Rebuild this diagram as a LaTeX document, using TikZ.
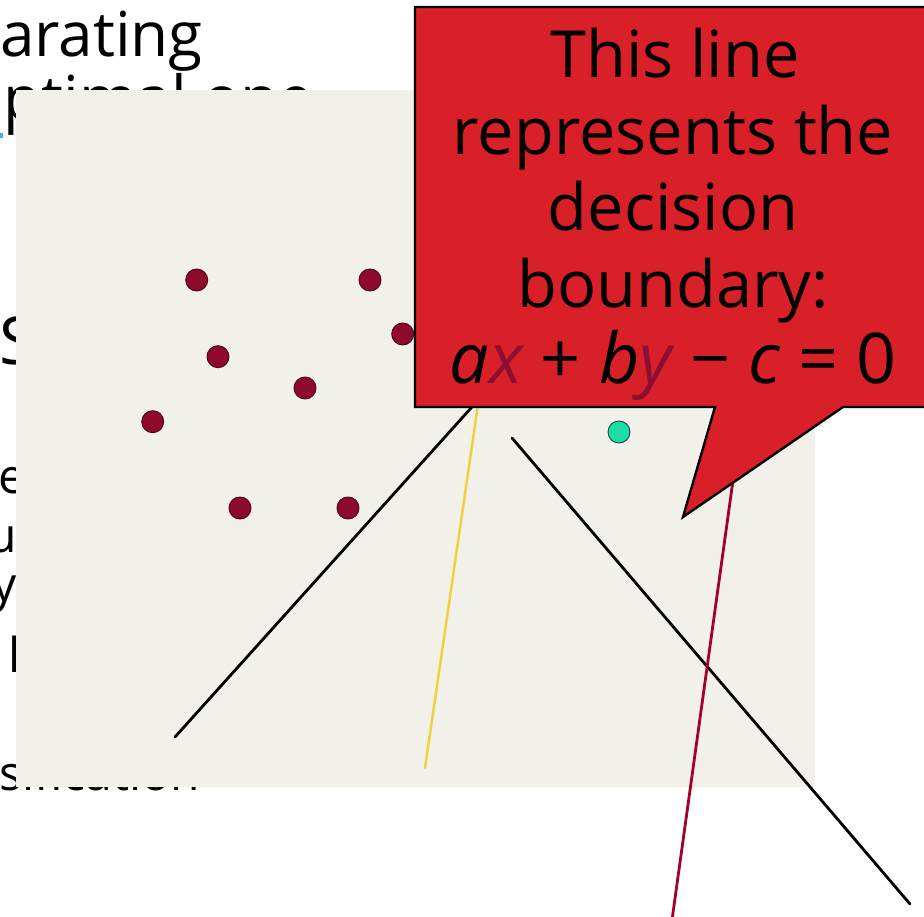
\documentclass[tikz,border=0pt]{standalone}
\usepackage{fontspec}
\setmainfont{Open Sans}
\definecolor{panel}{HTML}{F1F0E9}
\definecolor{callred}{HTML}{D91F27}
\definecolor{dotred}{HTML}{8E0A2C}
\definecolor{dotedge}{HTML}{4A0516}
\definecolor{dotteal}{HTML}{1EDCA6}
\definecolor{tealedge}{HTML}{1C4A3A}
\definecolor{varred}{HTML}{8A0F35}
\definecolor{boundred}{HTML}{A3002B}
\definecolor{boundyel}{HTML}{F0D03A}
\definecolor{linkcyan}{HTML}{3FB8E8}

\begin{document}
\begin{tikzpicture}[x=1pt,y=-1pt,
  bodytext/.style={anchor=base west, inner sep=0pt, font=\fontsize{62}{72}\selectfont},
  sidetext/.style={anchor=base west, inner sep=0pt, font=\fontsize{48}{58}\selectfont},
  calltext/.style={anchor=base, inner sep=0pt, font=\fontsize{65}{76}\selectfont},
  sample/.style={circle, minimum size=22pt, inner sep=0pt, draw=dotedge, line width=0.9pt, fill=dotred},
  query/.style={circle, minimum size=22pt, inner sep=0pt, draw=tealedge, line width=0.9pt, fill=dotteal},
  sepline/.style={line width=2.8pt, line cap=round}]
\useasboundingbox (0,0) rectangle (924,917);
\fill[white] (0,0) rectangle (924,917);

% slide text partly hidden behind the plot panel
\node[bodytext] (w1) at (0,57) {arating};
\node[bodytext] (w2) at (-34,121) {optimal one};
\fill[linkcyan] (0,133) rectangle (3,138);
\node[bodytext, font=\fontsize{66}{76}\selectfont] (w3) at (-1,365) {S};
\node[sidetext] (w4) at (-2,493) {e};
\node[sidetext] (w5) at (-13,552) {u};
\node[sidetext] (w6) at (-8,601) {y};
\node[sidetext] (w7) at (8,672) {l};
\node[sidetext] (w8) at (-1,790) {sification};

% plot panel
\fill[panel] (16,90) rectangle (815,787);

% sample points
\node[sample] (d1) at (196.7,280) {};
\node[sample] (d2) at (370,280) {};
\node[sample] (d3) at (402.7,334) {};
\node[sample] (d4) at (218,356.7) {};
\node[sample] (d5) at (305,388) {};
\node[sample] (d6) at (152.7,421.7) {};
\node[sample] (d7) at (240,508) {};
\node[sample] (d8) at (348,508) {};
\node[query] (q1) at (619,432) {};

% candidate separating lines
\coordinate (a0) at (175,737);
\coordinate (a1) at (480,398);
\coordinate (b0) at (425,768);
\coordinate (b1) at (479,398);
\coordinate (c0) at (512,438);
\coordinate (c1) at (910,904);
\coordinate (r0) at (672,920);
\coordinate (r1) at (740,430);
\draw[sepline, black] (a0) -- (a1);
\draw[sepline, boundyel, line width=2.4pt] (b0) -- (b1);
\draw[sepline, black] (c0) -- (c1);
\draw[sepline, boundred] (r0) -- (r1);

% callout
\draw[fill=callred, line width=2.4pt, line join=miter]
  (415,7) -- (940,7) -- (940,407) -- (843,407) -- (683,517) -- (715,407) -- (415,407) -- cycle;
\node[calltext] (l1) at (675,78) {This line};
\node[calltext] (l2) at (673,155) {represents the};
\node[calltext] (l3) at (673,231) {decision};
\node[calltext] (l4) at (673,308) {boundary:};
\node[calltext, font=\fontsize{70}{76}\selectfont] (l5) at (673,384)
  {\itshape a\textcolor{varred}{x}\upshape{} + \itshape b\textcolor{varred}{y}\upshape{} − \itshape c\upshape{} = 0};
\end{tikzpicture}
\end{document}
